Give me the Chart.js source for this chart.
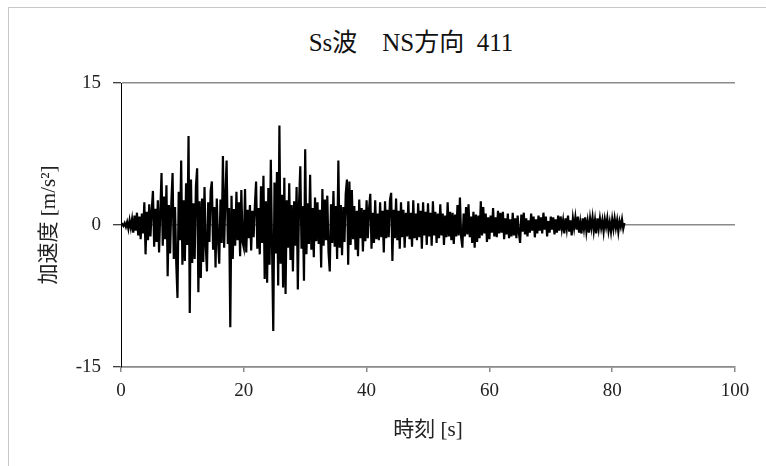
<!DOCTYPE html>
<html>
<head>
<meta charset="utf-8">
<script src="https://cdn.jsdelivr.net/npm/chart.js@4/dist/chart.umd.min.js"></script>
<style>
  html, body { margin: 0; padding: 0; background: #fff; }
  #wrap { position: relative; width: 766px; height: 466px; overflow: hidden; }
  #frame { position: absolute; left: 8px; top: 7px; width: 800px; height: 500px;
           border-top: 1px solid #c8c8c8; border-left: 1px solid #c8c8c8; }
  #title { position: absolute; top: 22px; left: 411px; transform: translateX(-50%);
           white-space: pre; font: 25px 'Liberation Serif', 'Noto Sans CJK JP', serif; color: #111; }
  canvas { position: absolute; left: 0; top: 0; }
</style>
</head>
<body>
<div id="wrap">
  <div id="frame"></div>
  <div id="title">Ss波    NS方向  411</div>
  <canvas id="accChart" width="766" height="466"></canvas>
</div>
<script>
// sample interval of the record [s]
var dt = 0.2;

// acceleration [m/s2], one row = 2 s
var accel = [
  0.0, 0.1, -0.1, 0.2, -0.2, 0.3, -0.4, 0.5, -0.3, 0.6,
  -0.8, 1.0, -0.6, 1.3, -1.1, 0.9, -1.5, 1.2, -0.9, 2.4,
  -3.1, 1.4, -1.6, 2.2, -1.2, 1.5, 3.6, -2.3, 1.7, -1.8,
  2.6, -2.9, 1.4, 5.5, -2.2, 3.0, -1.5, 4.2, -5.4, 2.1,
  -3.0, 2.4, 5.5, -3.6, 1.9, -4.1, -7.7, 3.5, -1.6, 6.8,
  -4.2, 2.6, -3.8, 4.4, -2.1, 9.4, -9.3, 4.8, -4.0, 2.3,
  -3.6, 4.1, 6.0, -7.1, 2.5, -5.6, 2.8, -3.9, 4.0, -2.2,
  -4.9, 2.4, -1.8, 3.6, 4.6, -2.6, 1.9, -4.5, 2.8, -1.6,
  -4.1, 2.7, -1.9, 7.3, -2.4, 3.0, 6.8, -2.0, 1.8, -10.8,
  3.1, -3.6, 1.7, -2.2, 3.5, -1.6, 2.4, -3.3, 3.7, -1.8,
  -2.4, 3.8, -2.9, 1.6, -1.4, 2.1, -2.7, 1.5, -1.3, 2.0,
  4.6, -2.5, 1.8, -3.1, 4.1, -1.9, 5.2, -5.7, 2.5, -6.1,
  3.9, -4.2, 6.9, -2.4, -11.2, 4.5, -3.0, 5.6, -6.4, 10.5,
  -4.1, 3.2, -6.6, 5.0, -7.3, 2.6, -2.4, 4.4, -3.7, 2.1,
  -4.9, 2.5, -2.2, 4.0, -6.8, 2.4, 6.2, -2.5, 2.0, -5.9,
  8.0, -3.1, 2.3, -2.0, 5.3, -2.6, 1.8, -3.4, 2.9, -1.7,
  2.4, -2.0, 1.6, -4.5, 3.8, -2.2, 2.7, -1.6, 3.1, -2.9,
  -4.9, 2.2, -1.9, 3.6, -2.3, 2.0, -3.6, 6.8, -2.4, 2.1,
  -3.2, 1.9, -1.8, 3.3, 4.8, -4.2, 4.6, -2.1, 3.7, -1.5,
  2.0, -2.6, 1.5, -3.3, 2.7, -1.4, 1.8, -2.8, 1.6, -1.7,
  2.6, -1.4, 1.7, 3.3, -2.5, 1.3, -1.9, 2.6, -1.5, 1.2,
  -1.6, 2.4, -1.3, 1.5, -2.9, 2.5, -1.4, 1.6, -1.3, 2.6,
  3.4, -3.8, 1.6, -1.4, 2.8, -1.6, 1.5, -2.5, 2.4, -1.3,
  1.6, -2.4, 1.3, -1.2, 2.5, -1.5, 1.3, -2.3, 2.6, -1.4,
  1.2, -1.6, 2.3, -1.3, 1.5, -2.5, 2.4, -1.1, 1.4, -2.1,
  2.3, -1.2, 1.3, -2.2, 2.5, -1.1, 1.4, -1.9, 1.2, -1.4,
  2.2, -1.1, 1.2, -2.1, 1.0, -1.3, 2.4, -1.2, 1.4, -1.6,
  1.3, -2.0, 1.1, -1.2, 2.1, -1.1, 2.9, -1.3, -2.4, 1.2,
  -1.2, 1.9, -1.0, 2.2, -1.3, 0.9, -1.9, 1.4, -2.4, 1.1,
  -1.8, 1.0, -1.4, 2.5, -1.1, 1.9, -0.9, 1.2, -1.8, 0.8,
  -1.5, 1.0, -0.8, 1.8, -1.2, 0.8, -1.3, 1.5, -0.9, 1.3,
  -0.8, 1.4, -1.5, 0.7, -1.0, 1.2, -1.4, 0.6, -1.2, 1.3,
  -1.1, 0.7, -1.4, 1.0, -0.8, -1.9, 1.1, -0.7, 1.3, -1.0,
  0.7, -1.2, 0.5, -0.8, 1.2, -0.6, 0.9, -1.3, 0.6, -0.9,
  1.0, -0.6, 0.8, -0.9, 1.3, -0.5, 0.9, -1.2, 0.4, -0.8,
  0.9, -0.5, 0.8, -1.0, 0.6, -0.8, 1.0, -0.6, 0.9, -0.4,
  0.5, -0.9, 0.7, -0.4, 1.0, -0.7, 0.5, -1.1, 0.7, -0.3,
  0.8, -0.5, 0.9, -0.8, 0.3, -0.9, 0.7, -0.4, 0.8, -0.7,
  0.4, -0.8, 0.7, -0.3, 0.8, -0.6, 0.5, -0.9, 0.7, -0.4,
  0.7, -0.3, 0.5, -0.7, 0.6, -0.2, 0.7, -0.6, 0.3, -0.7,
  0.6, -0.4, 0.7, -0.3, 0.5, -0.7, 0.4, -0.2, 0.6, -0.4,
  0.2
];

var xTicks = [0, 20, 40, 60, 80, 100];
var yTicks = [-15, 0, 15];

var tickFont = { family: "'Liberation Serif', 'DejaVu Serif', serif", size: 19 };
var labelFont = { family: "'Liberation Serif', 'Noto Sans CJK JP', serif", size: 21 };

var ctx = document.getElementById('accChart').getContext('2d');
var points = accel.map(function (v, i) { return { x: i * dt, y: v }; });

var accChart = new Chart(ctx, {
  type: 'line',
  data: {
    datasets: [{
      label: '加速度',
      data: points,
      borderColor: '#000',
      borderWidth: 2.2,
      pointRadius: 0,
      tension: 0,
      fill: false
    }]
  },
  options: {
    responsive: false,
    animation: false,
    layout: { padding: { left: 30, right: 31, top: 83, bottom: 23 } },
    plugins: { legend: { display: false }, tooltip: { enabled: false } },
    scales: {
      x: {
        type: 'linear',
        min: 0,
        max: 100,
        afterBuildTicks: function (s) { s.ticks = xTicks.map(function (v) { return { value: v }; }); },
        afterFit: function (s) { s.height = 76; },
        ticks: { font: tickFont, color: '#222', padding: 8, maxRotation: 0 },
        grid: { drawOnChartArea: false, drawTicks: true, tickLength: 5, color: '#8a8a8a', lineWidth: 1.5 },
        border: { color: '#8a8a8a', width: 1.5 },
        title: { display: true, text: '時刻 [s]', font: labelFont, color: '#222', padding: { top: 0, bottom: 0 } }
      },
      y: {
        min: -15,
        max: 15,
        afterBuildTicks: function (s) { s.ticks = yTicks.map(function (v) { return { value: v }; }); },
        afterFit: function (s) { s.width = 91; },
        ticks: { font: tickFont, color: '#222', padding: 12 },
        grid: { color: '#8a8a8a', lineWidth: 1.5, tickColor: '#000', tickWidth: 1, tickLength: 8 },
        border: { color: '#000', width: 1 },
        title: { display: true, text: '加速度 [m/s²]', font: labelFont, color: '#222', padding: { top: 7, bottom: 0 } }
      }
    }
  }
});
</script>
</body>
</html>
